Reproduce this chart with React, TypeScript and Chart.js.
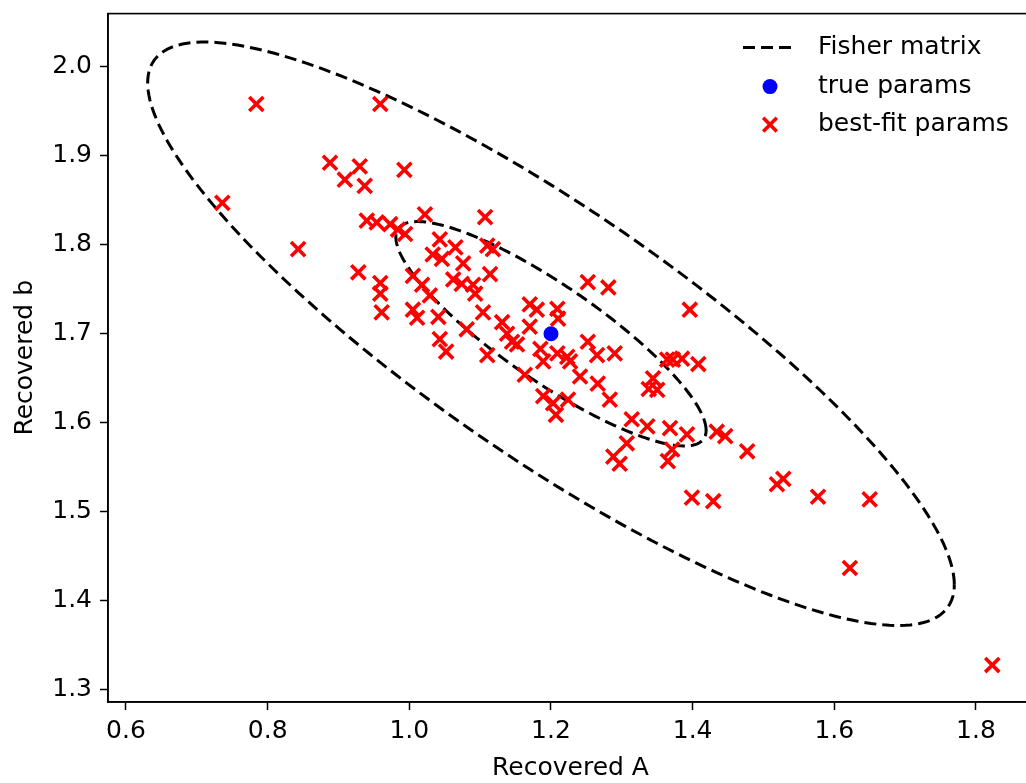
import React, { useEffect, useRef } from "react";
import { Chart, registerables } from "chart.js";

Chart.register(...registerables);

// ---- data ----
const bestFitA = [
  0.784, 0.959, 0.736, 0.888, 0.909, 0.930, 0.937, 0.993, 0.843,
  0.940, 0.954, 0.973, 0.984, 0.994, 1.022, 0.928, 0.959, 0.959, 0.961, 1.005, 1.018, 1.005, 1.011, 1.029,
  1.107, 1.043, 1.065, 1.033, 1.046, 1.076, 1.110, 1.118, 1.114, 1.062, 1.074, 1.090, 1.093, 1.104, 1.041, 1.043, 1.052, 1.081, 1.110,
  1.131, 1.138, 1.145, 1.152, 1.170, 1.180, 1.170, 1.185, 1.189, 1.209, 1.210, 1.209, 1.223, 1.163, 1.189, 1.203, 1.207, 1.224,
  1.252, 1.281, 1.252, 1.265, 1.290, 1.227, 1.241, 1.266, 1.283, 1.314, 1.336, 1.307, 1.288, 1.297,
  1.396, 1.364, 1.372, 1.385, 1.408, 1.344, 1.350, 1.338, 1.368, 1.392, 1.371, 1.365, 1.434, 1.446, 1.477, 1.399, 1.429,
  1.519, 1.528, 1.577, 1.650, 1.622, 1.823,
];
const bestFitB = [
  1.958, 1.958, 1.847, 1.892, 1.873, 1.888, 1.866, 1.884, 1.795,
  1.827, 1.825, 1.823, 1.817, 1.812, 1.834, 1.769, 1.757, 1.745, 1.724, 1.765, 1.755, 1.727, 1.718, 1.743,
  1.831, 1.806, 1.797, 1.789, 1.784, 1.779, 1.799, 1.795, 1.767, 1.761, 1.756, 1.755, 1.745, 1.724, 1.719, 1.694, 1.680, 1.705, 1.676,
  1.713, 1.700, 1.691, 1.688, 1.733, 1.727, 1.708, 1.683, 1.669, 1.728, 1.717, 1.678, 1.674, 1.654, 1.630, 1.622, 1.609, 1.626,
  1.758, 1.752, 1.691, 1.676, 1.678, 1.669, 1.652, 1.644, 1.626, 1.604, 1.596, 1.577, 1.562, 1.554,
  1.727, 1.671, 1.671, 1.672, 1.666, 1.650, 1.637, 1.638, 1.594, 1.587, 1.570, 1.557, 1.590, 1.585, 1.568, 1.516, 1.512,
  1.531, 1.537, 1.517, 1.514, 1.437, 1.328,
];
const trueA = [1.2];
const trueB = [1.7];

// Fisher-matrix forecast (centre, 1-sigma widths, correlation) and contour scales
const fisherCenter = [1.2, 1.7];
const fisherSigma = [0.219, 0.126];
const fisherRho = -0.86;
const contourScales = [1, 2.6];

const xTicks = [0.6, 0.8, 1.0, 1.2, 1.4, 1.6, 1.8];
const yTicks = [1.3, 1.4, 1.5, 1.6, 1.7, 1.8, 1.9, 2.0];

const legendLabels = ["Fisher matrix", "true params", "best-fit params"];

function ellipsePoints(scale: number) {
  const pts: { x: number; y: number }[] = [];
  const n = 240;
  const s = Math.sqrt(1 - fisherRho * fisherRho);
  for (let i = 0; i <= n; i++) {
    const t = (2 * Math.PI * i) / n;
    const u = Math.cos(t);
    const v = Math.sin(t);
    pts.push({
      x: fisherCenter[0] + scale * fisherSigma[0] * u,
      y: fisherCenter[1] + scale * fisherSigma[1] * (fisherRho * u + s * v),
    });
  }
  return pts;
}

const FONT = "'DejaVu Sans', sans-serif";
const DASH = [12, 6];
const LINE_W = 3;

const framePlugin = {
  id: "frameAndLegend",
  afterDraw(chart: any) {
    const { ctx, chartArea: a } = chart;
    ctx.save();
    ctx.strokeStyle = "#000";
    ctx.lineWidth = 1.6;
    ctx.strokeRect(a.left, a.top, a.right - a.left, a.bottom - a.top);

    // legend
    const rows = [a.top + 34, a.top + 73, a.top + 111];
    const mx = a.right - 263;
    ctx.lineWidth = LINE_W;
    ctx.setLineDash(DASH);
    ctx.beginPath();
    ctx.moveTo(a.right - 290, rows[0]);
    ctx.lineTo(a.right - 236, rows[0]);
    ctx.stroke();
    ctx.setLineDash([]);

    ctx.fillStyle = "#0000ff";
    ctx.beginPath();
    ctx.arc(mx, rows[1], 7.5, 0, Math.PI * 2);
    ctx.fill();

    ctx.strokeStyle = "#ff0000";
    ctx.lineWidth = 3.6;
    const d = 6.8;
    ctx.beginPath();
    ctx.moveTo(mx - d, rows[2] - d);
    ctx.lineTo(mx + d, rows[2] + d);
    ctx.moveTo(mx + d, rows[2] - d);
    ctx.lineTo(mx - d, rows[2] + d);
    ctx.stroke();

    ctx.fillStyle = "#000";
    ctx.font = `25px ${FONT}`;
    ctx.textAlign = "left";
    ctx.textBaseline = "middle";
    legendLabels.forEach((t, i) => ctx.fillText(t, a.right - 215, rows[i]));
    ctx.restore();
  },
};

export default function App() {
  const ref = useRef<HTMLCanvasElement | null>(null);

  useEffect(() => {
    if (!ref.current) return;
    Chart.defaults.font.family = FONT;
    Chart.defaults.color = "#000";

    const crosses = bestFitA.map((x, i) => ({ x, y: bestFitB[i] }));
    const truth = trueA.map((x, i) => ({ x, y: trueB[i] }));

    const chart = new Chart(ref.current, {
      type: "scatter",
      data: {
        datasets: [
          {
            label: "best-fit params",
            data: crosses,
            pointStyle: "crossRot",
            pointRadius: 10,
            pointBorderWidth: 3.6,
            borderColor: "#ff0000",
            backgroundColor: "#ff0000",
            order: 1,
          } as any,
          {
            label: "true params",
            data: truth,
            pointStyle: "circle",
            pointRadius: 7.5,
            pointBorderWidth: 0,
            borderColor: "#0000ff",
            backgroundColor: "#0000ff",
            order: 2,
          },
          ...contourScales.map((k) => ({
            label: "Fisher matrix",
            data: ellipsePoints(k),
            showLine: true,
            pointRadius: 0,
            borderColor: "#000",
            borderWidth: LINE_W,
            borderDash: DASH,
            fill: false,
            tension: 0,
            order: 3,
          })),
        ],
      },
      options: {
        animation: false,
        responsive: false,
        events: [],
        devicePixelRatio: 1,
        layout: { padding: { left: 0, top: 10, right: 27, bottom: 0 } },
        plugins: {
          legend: { display: false },
          tooltip: { enabled: false },
        },
        scales: {
          x: {
            type: "linear",
            min: 0.5746,
            max: 1.8805,
            afterBuildTicks: (s: any) => {
              s.ticks = xTicks.map((v) => ({ value: v }));
            },
            afterFit: (s: any) => {
              s.height = 81;
              s.paddingLeft = 0;
              s.paddingRight = 0;
            },
            ticks: {
              font: { size: 25, family: FONT },
              color: "#000",
              padding: 6,
              maxRotation: 0,
              callback: (v: any) => Number(v).toFixed(1),
            },
            grid: {
              drawOnChartArea: false,
              drawTicks: true,
              tickLength: 8,
              color: "#000",
              tickWidth: 1.5,
            },
            border: { display: true, color: "#000", width: 1.6 },
            title: {
              display: true,
              text: "Recovered A",
              font: { size: 25, family: FONT },
              color: "#000",
              padding: { top: 0, bottom: 0 },
            },
          },
          y: {
            type: "linear",
            min: 1.2865,
            max: 2.0595,
            afterBuildTicks: (s: any) => {
              s.ticks = yTicks.map((v) => ({ value: v }));
            },
            afterFit: (s: any) => {
              s.width = 108;
              s.paddingTop = 0;
              s.paddingBottom = 0;
            },
            ticks: {
              font: { size: 25, family: FONT },
              color: "#000",
              padding: 8,
              callback: (v: any) => Number(v).toFixed(1),
            },
            grid: {
              drawOnChartArea: false,
              drawTicks: true,
              tickLength: 8,
              color: "#000",
              tickWidth: 1.5,
            },
            border: { display: true, color: "#000", width: 1.6 },
            title: {
              display: true,
              text: "Recovered b",
              font: { size: 25, family: FONT },
              color: "#000",
              padding: { top: 10, bottom: 0 },
            },
          },
        },
      },
      plugins: [framePlugin],
    });
    return () => chart.destroy();
  }, []);

  return (
    <div
      style={{
        position: "fixed",
        left: 0,
        top: 0,
        width: 1026,
        height: 783,
        overflow: "hidden",
        background: "#fff",
      }}
    >
      <canvas
        ref={ref}
        width={1060}
        height={783}
        style={{ width: 1060, height: 783, display: "block" }}
      />
    </div>
  );
}
